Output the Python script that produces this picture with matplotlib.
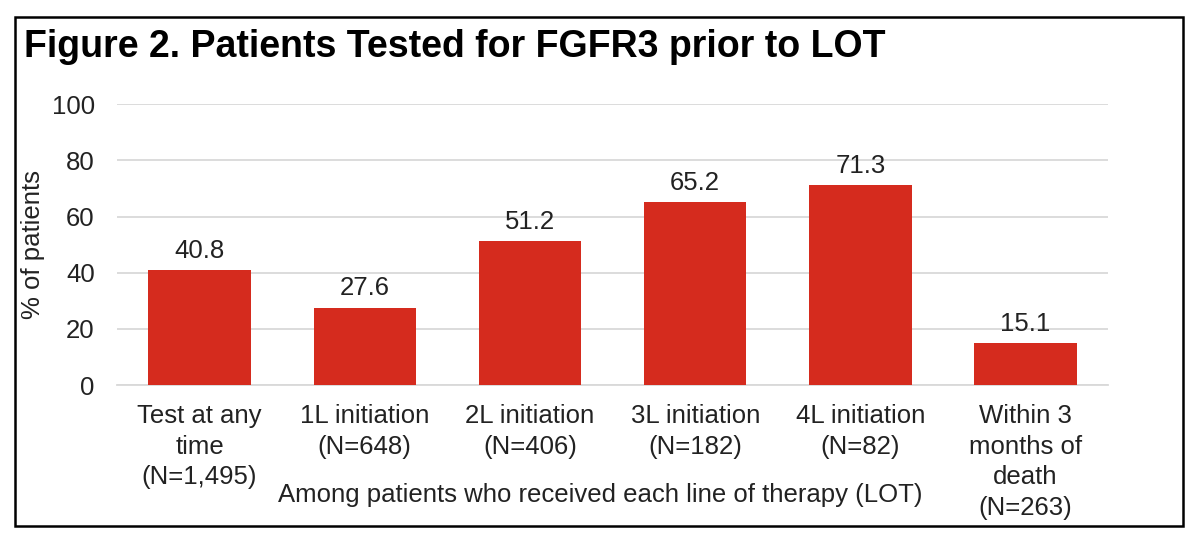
import matplotlib
matplotlib.use("Agg")
import matplotlib.pyplot as plt
from matplotlib.patches import Rectangle

plt.rcParams["font.family"] = ["Liberation Sans", "DejaVu Sans"]

categories = [
    "Test at any\ntime\n(N=1,495)",
    "1L initiation\n(N=648)",
    "2L initiation\n(N=406)",
    "3L initiation\n(N=182)",
    "4L initiation\n(N=82)",
    "Within 3\nmonths of\ndeath\n(N=263)",
]
values = [40.8, 27.6, 51.2, 65.2, 71.3, 15.1]
yticks = [0, 20, 40, 60, 80, 100]

bar_color = "#D52B1E"
grid_color = "#D9D9D9"
text_color = "#222222"
fs = 18.5

fig = plt.figure(figsize=(12, 5.4), dpi=100)
ax = fig.add_axes([0.0975, 0.287, 0.826, 0.52])

x = list(range(len(categories)))
ax.bar(x, values, width=0.62, color=bar_color, zorder=3)
for xi, v in zip(x, values):
    ax.text(xi, v + 2.5, f"{v:.1f}", ha="center", va="bottom", fontsize=fs, color=text_color)

ax.set_xlim(-0.5, len(categories) - 0.5)
ax.set_ylim(0, 100)
ax.set_yticks(yticks)
ax.set_xticks(x)
ax.set_xticklabels(categories, fontsize=fs, linespacing=1.34, va="top")
ax.tick_params(axis="both", length=0, labelsize=fs, colors=text_color)
ax.tick_params(axis="x", pad=14)
ax.tick_params(axis="y", pad=16)
ax.grid(axis="y", color=grid_color, lw=1.3, zorder=0)
for side in ["top", "right", "left"]:
    ax.spines[side].set_visible(False)
ax.spines["bottom"].set_color(grid_color)
ax.spines["bottom"].set_linewidth(1.3)

ax.set_ylabel("% of patients", fontsize=fs, color=text_color, labelpad=5)

fig.text(0.02, 0.913, "Figure 2. Patients Tested for FGFR3 prior to LOT",
         fontsize=27, fontweight="bold", ha="left", va="center", color="black")
fig.text(0.5, 0.083, "Among patients who received each line of therapy (LOT)",
         fontsize=fs, ha="center", va="center", color=text_color)

# outer frame
fig.patches.append(Rectangle((15 / 1200, 1 - 526 / 540), 1168 / 1200, 509 / 540,
                             transform=fig.transFigure, fill=False,
                             edgecolor="black", lw=1.8))

fig.savefig("out.png", dpi=100)
